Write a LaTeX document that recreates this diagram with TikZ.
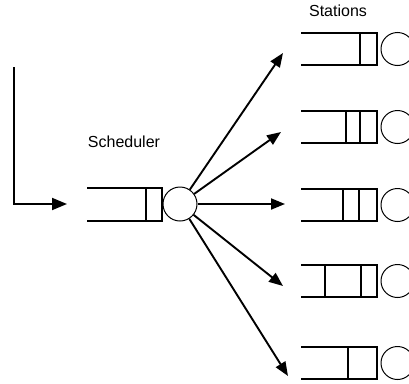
\documentclass[tikz,border=0pt]{standalone}
\usepackage{fontspec}
\setmainfont{Liberation Sans}
\usetikzlibrary{arrows.meta}
\begin{document}
\begin{tikzpicture}[x=1pt,y=-1pt,
  qline/.style={line width=2pt},
  srv/.style={circle,draw,line width=1pt,minimum size=33pt,inner sep=0pt},
  arr/.style={line width=1.9pt,-{Triangle[length=14pt,width=11pt]}},
  lbl/.style={font=\fontsize{16}{18}\selectfont}]
\useasboundingbox (0,0) rectangle (409,383);
% scheduler
\draw[qline] (87,188) -- (162,188) -- (162,221) -- (87,221);
\draw[qline] (146,188) -- (146,221);
\node[srv,minimum size=34pt] (sched) at (180,204) {};
\node[lbl,anchor=base] (schedlbl) at (124,147) {Scheduler};
% input
\coordinate (in0) at (14,67);
\coordinate (in1) at (14,204);
\coordinate (in2) at (67,204);
\draw[line width=1.9pt,-{Triangle[length=15pt,width=12pt]}] (in0) -- (in1) -- (in2);
% stations
\node[lbl,anchor=base] (statlbl) at (338,16) {Stations};
\foreach \i/\y/\lines in {1/49/{360},2/127/{346,360},3/205/{343,359},4/281/{325,361},5/363/{348}}{
  \draw[qline] (301,\y-16) -- (377,\y-16) -- (377,\y+16) -- (301,\y+16);
  \foreach \lx in \lines { \draw[qline] (\lx,\y-16) -- (\lx,\y+16); }
  \node[srv] (st\i) at (397.5,\y) {};
}
% dispatch arrows
\coordinate (t1) at (283,53);
\coordinate (t2) at (281,132);
\coordinate (t3) at (285,204);
\coordinate (t4) at (283,286);
\coordinate (t5) at (288,376);
\foreach \i in {1,...,5}{ \draw[arr] (sched) -- (t\i); }
\end{tikzpicture}
\end{document}
